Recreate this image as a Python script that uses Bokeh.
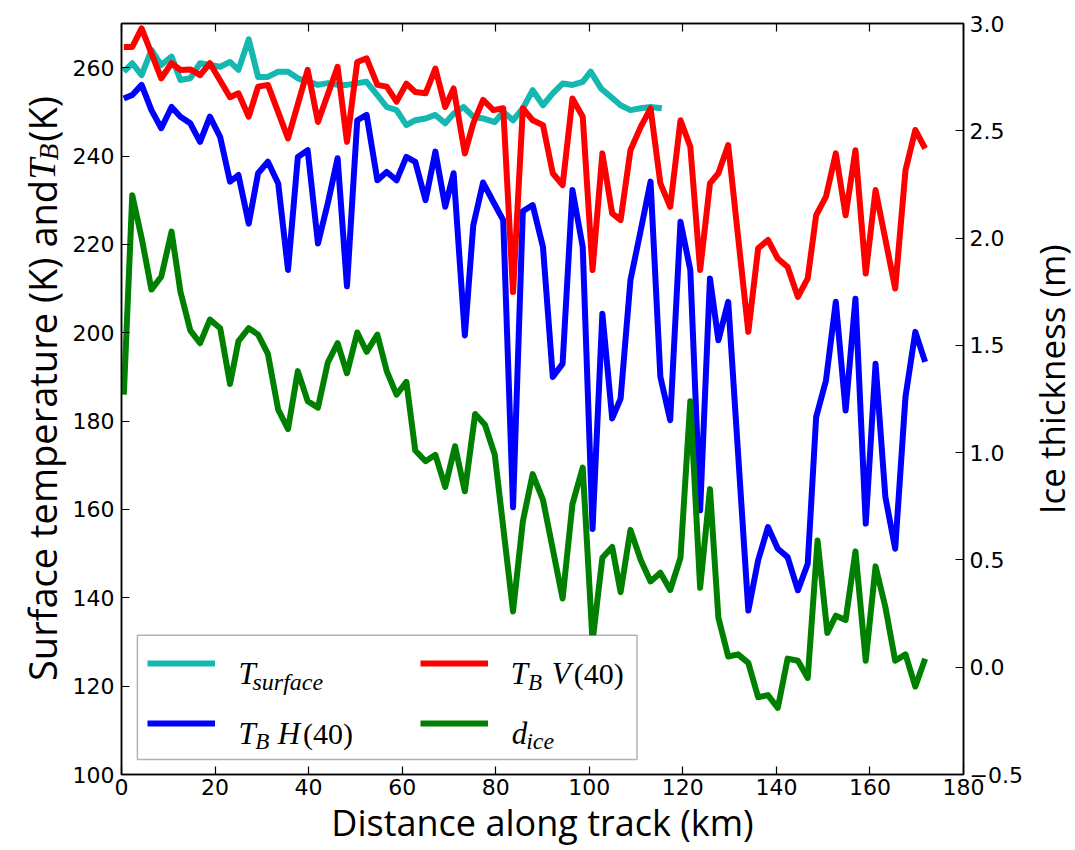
import numpy as np
from bokeh.plotting import figure
from bokeh.layouts import row
from bokeh.models import (Range1d, LinearAxis, FixedTicker, CustomJSTickFormatter,
                          Legend, LegendItem, Label, BoxAnnotation)
from bokeh.embed import file_html
from bokeh.resources import INLINE
from bokeh.core.properties import value

# ---------------- data ----------------
x_tv = [0.5, 2.3, 4.3, 8.5, 10.7, 12.6, 14.7, 16.8, 18.9, 23.2, 25.0, 27.2, 29.2, 31.3, 35.6, 39.8,
        42.0, 46.2, 48.2, 50.4, 52.4, 54.7, 56.7, 58.8, 60.9, 62.8, 65.0, 67.1, 69.2, 71.0, 73.4,
        75.2, 77.3, 79.5, 81.6, 83.7, 85.8, 87.9, 90.1, 92.2, 94.3, 96.4, 98.6, 100.7, 102.8,
        104.9, 106.7, 108.8, 111.0, 113.1, 115.2, 117.3, 119.5, 121.6, 123.7, 125.8, 127.6,
        129.7, 134.0, 136.1, 138.2, 140.3, 142.4, 144.6, 146.7, 148.5, 150.6, 152.7, 154.8,
        156.9, 159.1, 161.2, 165.4, 167.6, 169.7, 171.8]
tb_v = [264.7, 264.7, 268.9, 257.6, 261.0, 259.5, 259.6, 258.3, 261.0, 253.3, 254.2, 248.9, 255.7,
        256.1, 244.0, 259.5, 247.7, 260.2, 243.2, 261.3, 262.1, 256.1, 255.7, 252.3, 256.4, 254.5,
        254.2, 259.8, 251.1, 255.3, 240.6, 247.4, 252.7, 250.4, 250.8, 209.2, 250.8, 248.1, 247.0,
        236.1, 233.4, 253.0, 248.9, 214.2, 240.6, 227.0, 225.5, 241.3, 246.6, 250.8, 233.8, 228.5,
        248.1, 242.1, 214.2, 233.8, 236.1, 242.5, 200.2, 219.1, 221.0, 216.8, 214.9, 208.1, 212.3,
        226.6, 230.8, 240.6, 226.6, 241.3, 213.4, 232.3, 210.0, 236.8, 245.9, 241.7]

x_ts = [0.5, 2.3, 4.3, 6.4, 8.5, 10.7, 12.6, 14.7, 16.8, 18.9, 21.1, 23.2, 25.0, 27.2, 29.2, 31.3,
        33.5, 35.6, 37.7, 42.0, 44.1, 46.2, 48.2, 50.4, 52.4, 54.7, 56.7, 58.8, 60.9, 62.8, 65.0,
        67.1, 69.2, 71.0, 73.1, 75.2, 77.3, 79.8, 81.6, 83.7, 85.8, 87.9, 90.1, 92.2, 94.3, 96.4,
        98.6, 100.3, 102.5, 104.6, 106.7, 108.8, 111.0, 113.1, 115.5]
t_surf = [259.1, 261.0, 258.3, 264.0, 260.6, 262.5, 257.2, 257.6, 261.0, 260.6, 260.2, 261.3, 259.5,
          266.4, 257.9, 257.9, 259.1, 259.1, 257.6, 256.1, 256.5, 256.1, 256.1, 256.5, 256.8, 253.8,
          251.1, 250.4, 247.0, 248.1, 248.5, 249.3, 247.4, 249.6, 251.1, 248.9, 248.5, 247.7, 250.0,
          248.1, 250.8, 254.9, 251.5, 254.2, 256.4, 256.1, 256.8, 259.1, 255.3, 253.4, 251.5, 250.4,
          250.8, 251.1, 250.8]

x_th = [0.5, 2.3, 4.3, 6.4, 8.5, 10.7, 12.6, 14.7, 16.8, 18.9, 21.1, 23.2, 25.0, 27.2, 29.2, 31.3,
        33.5, 35.6, 37.7, 39.8, 42.0, 44.1, 46.2, 48.2, 50.4, 52.4, 54.7, 56.7, 58.8, 60.9, 62.8,
        65.0, 67.1, 69.2, 71.0, 73.4, 75.2, 77.3, 79.5, 81.6, 83.7, 85.8, 87.9, 90.1, 92.2, 94.3,
        96.4, 98.6, 100.7, 102.8, 104.9, 106.7, 108.8, 111.0, 113.1, 115.2, 117.3, 119.5, 121.6,
        123.7, 125.8, 127.6, 129.7, 134.0, 136.1, 138.2, 140.3, 142.4, 144.6, 146.7, 148.5, 150.6,
        152.7, 154.8, 156.9, 159.1, 161.2, 163.3, 165.4, 167.6, 169.7, 171.8]
tb_h = [253.0, 253.8, 256.1, 250.4, 246.3, 251.1, 248.9, 247.4, 243.2, 248.9, 244.3, 234.2, 235.7,
        224.7, 236.1, 238.7, 233.8, 214.2, 239.8, 241.3, 220.2, 229.3, 239.5, 210.5, 248.1, 249.3,
        234.5, 236.4, 234.5, 239.8, 238.7, 230.0, 241.0, 228.5, 236.1, 199.4, 224.3, 234.0, 229.6,
        225.5, 160.5, 227.5, 228.9, 219.4, 190.0, 193.0, 232.3, 219.4, 155.6, 204.3, 180.6, 185.1,
        211.9, 223.2, 234.2, 190.0, 180.2, 225.1, 214.2, 159.8, 212.3, 198.3, 207.0, 137.1, 148.5,
        156.0, 151.1, 149.2, 141.7, 147.7, 180.9, 189.2, 207.0, 182.4, 207.7, 156.8, 193.0, 162.8,
        151.1, 185.5, 200.2, 193.4]

x_ice = [0.5, 2.3, 4.4, 6.4, 8.5, 10.7, 12.6, 14.7, 16.8, 18.9, 21.1, 23.2, 25.0, 27.2, 29.2, 31.3,
         33.5, 35.6, 37.7, 39.8, 42.0, 44.1, 46.2, 48.2, 50.4, 52.4, 54.7, 56.7, 58.8, 60.9, 62.8,
         65.0, 67.1, 69.2, 71.3, 73.4, 75.6, 77.7, 79.8, 83.7, 85.8, 87.9, 90.1, 94.3, 96.4, 98.6,
         100.7, 102.8, 104.9, 106.7, 108.8, 111.0, 113.1, 115.2, 117.3, 119.5, 121.6, 123.7, 125.8,
         127.6, 129.7, 131.8, 134.0, 136.1, 138.2, 140.3, 142.4, 144.6, 146.7, 148.8, 150.9, 152.7,
         154.8, 156.9, 159.1, 161.2, 163.3, 165.4, 167.6, 169.7, 171.8]
d_ice = [1.27, 2.20, 1.99, 1.76, 1.82, 2.03, 1.75, 1.57, 1.51, 1.62, 1.58, 1.32, 1.52, 1.58, 1.55,
         1.46, 1.20, 1.11, 1.38, 1.24, 1.21, 1.42, 1.51, 1.37, 1.56, 1.47, 1.55, 1.38, 1.27, 1.33,
         1.01, 0.96, 0.99, 0.84, 1.03, 0.82, 1.18, 1.13, 0.99, 0.26, 0.68, 0.90, 0.78, 0.32, 0.76,
         0.93, 0.12, 0.51, 0.56, 0.35, 0.64, 0.50, 0.40, 0.44, 0.36, 0.51, 1.24, 0.37, 0.83, 0.23,
         0.05, 0.06, 0.02, -0.14, -0.13, -0.19, 0.04, 0.03, -0.05, 0.59, 0.16, 0.24, 0.22, 0.54,
         0.03, 0.47, 0.28, 0.03, 0.06, -0.09, 0.04]

x_ticks = [0, 20, 40, 60, 80, 100, 120, 140, 160, 180]
t_ticks = [100, 120, 140, 160, 180, 200, 220, 240, 260]
ice_ticks = [-0.5, 0.0, 0.5, 1.0, 1.5, 2.0, 2.5, 3.0]

# ---------------- fonts / layout ----------------
TICK_FONT = "DejaVu Sans"
LABEL_FONT = "Open Sans"
MATH_FONT = "Liberation Serif"
H = 850
W_LEFT = 69      # strip that carries the left axis title
W_RIGHT = 50     # strip that carries the right axis title
W_MAIN = 1075 - W_LEFT - W_RIGHT

p = figure(width=W_MAIN, height=H, x_range=Range1d(0, 180), y_range=Range1d(100, 270),
           output_backend="svg", toolbar_location=None,
           min_border_left=119 - W_LEFT, min_border_right=W_MAIN + W_LEFT - 965,
           min_border_top=23, min_border_bottom=76)
p.extra_y_ranges = {"ice": Range1d(-0.5, 3.0)}
p.xgrid.visible = False
p.ygrid.visible = False
p.outline_line_color = "black"
p.outline_line_width = 1.5
p.background_fill_color = "white"
p.border_fill_color = "white"

fmt_int = CustomJSTickFormatter(code="return tick.toFixed(0);")
fmt_one = CustomJSTickFormatter(code="return tick.toFixed(1).replace('-', '\\u2212');")
fmt_none = CustomJSTickFormatter(code="return '';")


def style_axis(ax):
    ax.major_tick_in = 8
    ax.major_tick_out = 0
    ax.minor_tick_in = 0
    ax.minor_tick_out = 0
    ax.major_tick_line_color = "black"
    ax.major_tick_line_width = 1.2
    ax.axis_line_color = "black"
    ax.axis_line_width = 1.5
    ax.major_label_text_font = TICK_FONT
    ax.major_label_text_font_size = "22px"
    ax.major_label_text_color = "black"
    ax.major_label_standoff = 10


xa = p.xaxis[0]
xa.ticker = FixedTicker(ticks=x_ticks)
xa.formatter = fmt_int
style_axis(xa)
xa.major_label_standoff = 4
xa.axis_label = "Distance along track (km)"
xa.axis_label_text_font = LABEL_FONT
xa.axis_label_text_font_size = "36px"
xa.axis_label_text_font_style = "normal"
xa.axis_label_text_color = "black"
xa.axis_label_standoff = 0

ya = p.yaxis[0]
ya.ticker = FixedTicker(ticks=t_ticks)
ya.formatter = fmt_int
style_axis(ya)
ya.major_label_standoff = 7

ra = LinearAxis(y_range_name="ice", ticker=FixedTicker(ticks=ice_ticks), formatter=fmt_one)
style_axis(ra)
ra.major_label_standoff = 6
p.add_layout(ra, "right")

ta = LinearAxis(ticker=FixedTicker(ticks=x_ticks), formatter=fmt_none)
style_axis(ta)
ta.major_label_standoff = 0
p.add_layout(ta, "above")

# ---------------- lines ----------------
LW = 6
r_c = p.line(x_ts, t_surf, line_color="#14B8B0", line_width=LW, line_join="round")
r_b = p.line(x_th, tb_h, line_color="#0000FF", line_width=LW, line_join="round")
r_r = p.line(x_tv, tb_v, line_color="#FF0000", line_width=LW, line_join="round")
r_g = p.line(x_ice, d_ice, line_color="#008000", line_width=LW, line_join="round",
             y_range_name="ice")

# ---------------- legend ----------------
box = BoxAnnotation(left=3.4, right=110.2, top=131.5, bottom=103.4,
                    fill_color="white", fill_alpha=1.0, line_color="black", line_width=1.5)
p.add_layout(box)


def make_legend(items, loc):
    return Legend(items=items, location=loc, orientation="vertical", glyph_width=68,
                  glyph_height=40, spacing=20, padding=0, margin=0, label_width=0,
                  label_standoff=0, label_text_font_size="1px", border_line_alpha=0,
                  background_fill_alpha=0)


p.add_layout(make_legend([LegendItem(label=value(" "), renderers=[r_c]),
                          LegendItem(label=value(" "), renderers=[r_b])], (26, 31)))
p.add_layout(make_legend([LegendItem(label=value(" "), renderers=[r_r]),
                          LegendItem(label=value(" "), renderers=[r_g])], (299, 31)))


def lab(fig, x, y, text, size, font=MATH_FONT, style="italic", align="left", angle=0.0,
        baseline="alphabetic"):
    fig.add_layout(Label(x=x, y=y, text=text, text_font=font, text_font_size=size,
                         text_font_style=style, text_color="black", text_align=align,
                         text_baseline=baseline, angle=angle))


# legend texts
lab(p, 25.0, 122.9, "T", "31px")
lab(p, 28.0, 120.9, "surface", "24px")
lab(p, 25.0, 109.3, "T", "31px")
lab(p, 28.6, 107.5, "B", "23px")
lab(p, 33.4, 109.3, "H", "31px")
lab(p, 38.8, 109.3, "(40)", "30px", style="normal")
lab(p, 83.2, 122.9, "T", "31px")
lab(p, 86.9, 120.9, "B", "23px")
lab(p, 92.0, 122.9, "V", "31px")
lab(p, 96.7, 122.9, "(40)", "30px", style="normal")
lab(p, 83.4, 109.3, "d", "31px")
lab(p, 86.5, 107.5, "ice", "24px")


def strip(width):
    f = figure(width=width, height=H, x_range=Range1d(0, width), y_range=Range1d(0, H),
               output_backend="svg", toolbar_location=None, x_axis_location=None,
               y_axis_location=None, min_border=0, outline_line_color=None)
    f.grid.visible = False
    f.background_fill_color = "white"
    f.border_fill_color = "white"
    return f


A = np.pi / 2
# left axis title: "Surface temperature (K) and T_B (K)"
# (strip pixels; y measured from the bottom of the strip; every piece is anchored at its
#  upper end, the texts read upward)
left = strip(W_LEFT)
lab(left, 41, H - 177, "Surface temperature (K) and", "38px", font=LABEL_FONT,
    style="normal", align="right", angle=A)
lab(left, 41, H - 153, "T", "38px", align="right", angle=A)
lab(left, 48, H - 136, "B", "27px", align="right", angle=A)
lab(left, 41, H - 82, "(K)", "38px", font=LABEL_FONT, style="normal", align="right", angle=A)

# right axis title
right = strip(W_RIGHT)
lab(right, 26, H - 250, "Ice thickness (m)", "35px", font=LABEL_FONT, style="normal",
    align="right", angle=A)

layout = row(left, p, right, spacing=0)
open("out.html", "w").write(file_html(layout, INLINE))
